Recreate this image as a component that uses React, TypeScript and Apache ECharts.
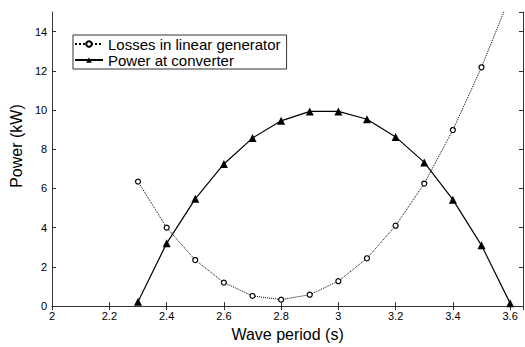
import React, { useEffect, useRef } from "react";
import * as echarts from "echarts";

const periods = [2.3, 2.4, 2.5, 2.6, 2.7, 2.8, 2.9, 3.0, 3.1, 3.2, 3.3, 3.4, 3.5, 3.6];
const losses = [6.35, 4.0, 2.35, 1.2, 0.52, 0.33, 0.58, 1.27, 2.44, 4.1, 6.25, 8.98, 12.18, 15.8];
const power = [0.22, 3.2, 5.47, 7.25, 8.57, 9.45, 9.93, 9.93, 9.53, 8.63, 7.33, 5.43, 3.1, 0.15];
const xTicks = [2, 2.2, 2.4, 2.6, 2.8, 3, 3.2, 3.4, 3.6];
const yTicks = [0, 2, 4, 6, 8, 10, 12, 14];

const FONT = "Liberation Sans, Arial, sans-serif";

export default function App() {
  const ref = useRef<HTMLDivElement>(null);
  useEffect(() => {
    if (!ref.current) return;
    const chart = echarts.init(ref.current, null, { renderer: "svg" });
    const axisLine = { show: true, lineStyle: { color: "#333", width: 1 } };
    const tick = { show: true, inside: true, length: 4, lineStyle: { color: "#333" } };
    const fmtX = (v: number) => {
      const hit = xTicks.find((t) => Math.abs(t - v) < 1e-6);
      return hit === undefined ? "" : String(hit);
    };
    const fmtY = (v: number) => {
      const hit = yTicks.find((t) => Math.abs(t - v) < 1e-6);
      return hit === undefined ? "" : String(hit);
    };
    chart.setOption({
      animation: false,
      backgroundColor: "#fff",
      textStyle: { fontFamily: FONT },
      grid: { left: 45, right: 2, top: 12, bottom: 30 },
      legend: {
        orient: "vertical",
        left: 73,
        top: 35,
        padding: [1, 6, 1, 1],
        itemGap: 0,
        itemWidth: 28,
        itemHeight: 7,
        borderColor: "#333",
        borderWidth: 1,
        backgroundColor: "#fff",
        textStyle: { fontSize: 15, color: "#000", fontFamily: FONT, lineHeight: 16 },
        data: ["Losses in linear generator", "Power at converter"],
      },
      xAxis: [
        {
          type: "value",
          min: 2,
          max: 3.645,
          interval: 0.2,
          axisLine,
          axisTick: tick,
          splitLine: { show: false },
          axisLabel: { formatter: fmtX, color: "#000", fontSize: 11, margin: 4, showMaxLabel: false },
          name: "Wave period (s)",
          nameLocation: "middle",
          nameGap: 17,
          nameTextStyle: { fontSize: 16, color: "#000", fontFamily: FONT },
        },
        {
          type: "value",
          position: "top",
          min: 2,
          max: 3.645,
          interval: 0.2,
          axisLine,
          axisTick: tick,
          splitLine: { show: false },
          axisLabel: { show: false },
        },
      ],
      yAxis: [
        {
          type: "value",
          min: 0,
          max: 15,
          interval: 2,
          axisLine,
          axisTick: tick,
          splitLine: { show: false },
          axisLabel: { formatter: fmtY, color: "#000", fontSize: 11, margin: 5, showMaxLabel: false },
          name: "Power (kW)",
          nameLocation: "middle",
          nameGap: 20,
          nameTextStyle: { fontSize: 16, color: "#000", fontFamily: FONT, padding: [0, 0, 0, 26] },
        },
        {
          type: "value",
          position: "right",
          min: 0,
          max: 15,
          interval: 2,
          axisLine,
          axisTick: tick,
          splitLine: { show: false },
          axisLabel: { show: false },
        },
      ],
      series: [
        {
          name: "Losses in linear generator",
          type: "line",
          data: periods.map((p, i) => [p, losses[i]]),
          symbol: "circle",
          symbolSize: 5,
          showAllSymbol: true,
          clip: true,
          lineStyle: { color: "#000", width: 1, type: "dotted" },
          itemStyle: { color: "#fff", borderColor: "#000", borderWidth: 1.2 },
        },
        {
          name: "Power at converter",
          type: "line",
          data: periods.map((p, i) => [p, power[i]]),
          symbol: "triangle",
          symbolSize: 8,
          showAllSymbol: true,
          clip: true,
          lineStyle: { color: "#000", width: 1.2, type: "solid" },
          itemStyle: { color: "#000" },
        },
      ],
    });
    return () => chart.dispose();
  }, []);
  return <div ref={ref} style={{ position: "fixed", left: 0, top: 0, width: 525, height: 347 }} />;
}
